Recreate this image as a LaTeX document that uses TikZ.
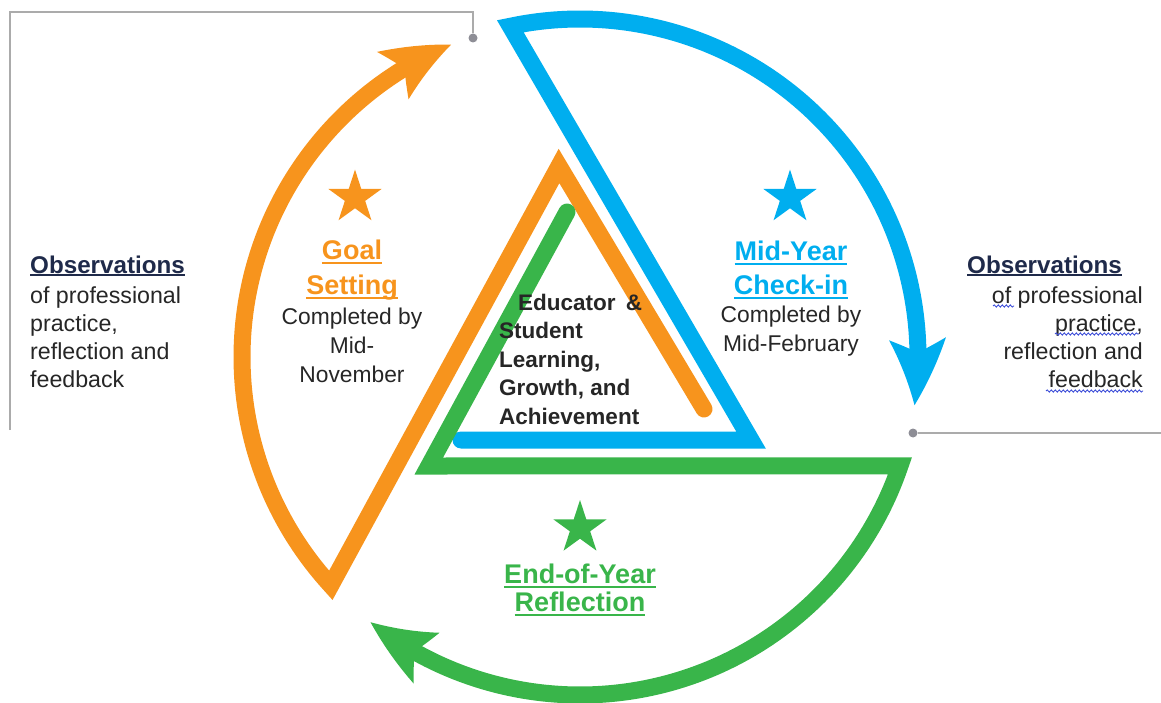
\documentclass[tikz,border=0pt]{standalone}
\usepackage{fontspec}
\setmainfont{Liberation Sans}
\usetikzlibrary{arrows.meta, bending, shapes.geometric, positioning, decorations.pathmorphing}

\definecolor{orng}{HTML}{F7941D}
\definecolor{sky}{HTML}{00AEEF}
\definecolor{leaf}{HTML}{39B54A}
\definecolor{navy}{HTML}{1F2A4A}
\definecolor{ink}{HTML}{262626}
\definecolor{rulegray}{HTML}{ABABAB}
\definecolor{pingray}{HTML}{8E8E96}
\definecolor{squigblue}{HTML}{3F4FD8}

% underlined word
\newsavebox{\ulbox}
\newcommand{\ulword}[2][4.5pt]{\sbox{\ulbox}{#2}\leavevmode
  \rlap{\rule[-#1]{\wd\ulbox}{1.8pt}}\usebox{\ulbox}}

\begin{document}
\begin{tikzpicture}[x=1pt, y=-1pt,
  >={Stealth[length=67pt, width=57pt, inset=14pt, line width=0pt, bend]},
  band/.style={draw=#1, line width=17pt, line cap=round, line join=miter, ->},
  starmark/.style={star, star points=5, star point ratio=2.62, fill=#1,
    draw=none, minimum size=56pt, inner sep=0pt},
  stagehead/.style={text=#1, font=\fontsize{27}{34.5}\selectfont\bfseries,
    align=center, inner sep=0pt},
  stagenote/.style={text=ink, font=\fontsize{22.8}{29}\selectfont,
    align=center, inner sep=0pt},
  obshead/.style={text=navy, font=\fontsize{24.2}{28}\selectfont\bfseries, inner sep=0pt},
  obsnote/.style={text=ink, font=\fontsize{23.2}{28}\selectfont, inner sep=0pt},
  core/.style={text=ink, font=\fontsize{22.5}{28.5}\selectfont\bfseries,
    align=left, inner sep=0pt},
  pindot/.style={circle, fill=pingray, inner sep=0pt, minimum size=9pt},
  guide/.style={draw=rulegray, line width=2.2pt},
  squiggle/.style={draw=squigblue, line width=0.9pt, decorate,
    decoration={snake, amplitude=1.1pt, segment length=4pt}},
]
\useasboundingbox (0,0) rectangle (1161,703);

% centre of the cycle
\coordinate (hub) at (580,357);

% =============================================
% Guide lines with end dots
% =============================================
\node[pindot] (pinL) at (473,38) {};
\node[pindot] (pinR) at (913,433) {};
\coordinate (guideL) at (10,430);
\coordinate (guideTop) at (473,12);
\coordinate (guideR) at (1161,433);
\draw[guide] (guideL) |- (guideTop) -- (pinL);
\draw[guide] (pinR) -- (guideR);

% =============================================
% Goal setting band (orange)
% =============================================
\coordinate (gsEnd) at (704,409);
\coordinate (gsApex) at (559,166);
\coordinate (gsFoot) at ([shift={(137.5:338)}]hub);
\draw[band=orng] (gsEnd) -- (gsApex) -- (gsFoot)
  arc[start angle=137.5, end angle=247.6, radius=338];

% =============================================
% Mid-year band (blue)
% =============================================
\coordinate (mcEnd) at (461,440);
\coordinate (mcCorner) at (751,440);
\coordinate (mcTop) at ([shift={(258.1:338)}]hub);
\draw[band=sky] (mcEnd) -- (mcCorner) -- (mcTop)
  arc[start angle=258.1, end angle=368.2, radius=338];

% =============================================
% End-of-year band (green)
% =============================================
\coordinate (eyEnd) at (567,212);
\coordinate (eyCorner) at (428.8,466);
\coordinate (eyRim) at ([shift={(18.8:338)}]hub);
\draw[band=leaf] (eyEnd) -- (eyCorner) -- (eyRim)
  arc[start angle=18.8, end angle=128.3, radius=338];

% =============================================
% Stars and stage labels
% =============================================
\node[starmark=orng] (gsStar) at (355,197.6) {};
\node[starmark=sky] (mcStar) at (790,197.6) {};
\node[starmark=leaf] (eyStar) at (580,528) {};

\node[stagehead=orng] (gsHead) at (352,270) {\ulword{Goal}\\\ulword{Setting}};
\node[stagenote] (gsNote) at (352,345) {Completed by\\Mid-\\November};

\node[stagehead=sky] (mcHead) at (791,270) {\ulword{Mid-Year}\\\ulword{Check-in}};
\node[stagenote] (mcNote) at (791,331) {Completed by\\Mid-February};

\node[stagehead=leaf, font=\fontsize{27}{28.5}\selectfont\bfseries]
  (eyHead) at (580,590) {\ulword{End-of-Year}\\\ulword{Reflection}};

% centre text
\node[core, anchor=north west] (coreText) at (499,293.5)
  {\hspace*{19pt}Educator\hspace{0.45em}\&\\Student\\Learning,\\Growth, and\\Achievement};

% =============================================
% Observation notes
% =============================================
\node[obshead, anchor=base west] (obsL) at (30,273)
  {\ulword[3pt]{Observations}};
\node[obsnote, anchor=north west, align=left] (obsLNote) at (30,286.7)
  {of professional\\practice,\\reflection and\\feedback};

\node[obshead, anchor=base west] (obsR) at (967,273)
  {\ulword[3pt]{Observations}};
\node[obsnote, anchor=north east, align=right] (obsRNote) at (1143,286.7)
  {of professional\\practice,\\reflection and\\feedback};

% proofing marks under three words
\draw[squiggle] (993,306) -- (1014,306);
\draw[squiggle] (1055,334) -- (1139,334);
\draw[squiggle] (1046,391) -- (1143,391);

\end{tikzpicture}
\end{document}
